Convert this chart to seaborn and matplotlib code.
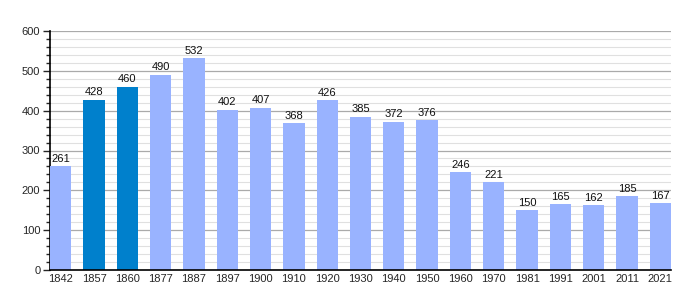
import matplotlib
matplotlib.use("Agg")
import matplotlib.pyplot as plt
import seaborn as sns
import pandas as pd
from matplotlib.ticker import MultipleLocator

years = ["1842", "1857", "1860", "1877", "1887", "1897", "1900", "1910", "1920", "1930",
         "1940", "1950", "1960", "1970", "1981", "1991", "2001", "2011", "2021"]
population = [261, 428, 460, 490, 532, 402, 407, 368, 426, 385,
              372, 376, 246, 221, 150, 165, 162, 185, 167]
highlight = ["1857", "1860"]

light = "#99b3ff"
dark = "#0080cc"

df = pd.DataFrame({"year": years, "pop": population})
palette = {y: (dark if y in highlight else light) for y in years}

sns.set_style("white")
plt.rcParams['font.family'] = ['Liberation Sans', 'DejaVu Sans']

fig = plt.figure(figsize=(7, 3), dpi=100)
ax = fig.add_axes([50/700, 30/300, 621/700, 239/300])

bw = 0.64
sns.barplot(data=df, x="year", y="pop", hue="year", palette=palette, legend=False,
            width=bw, ax=ax, saturation=1, zorder=3, linewidth=0, edgecolor="none")

for i, v in enumerate(population):
    ax.text(i, v + 6, str(v), ha="center", va="bottom", fontsize=8, color="#111111", zorder=4)

ax.set_xlim(-bw/2, len(years) - 1 + bw/2)
ax.set_ylim(0, 600)
ax.yaxis.set_major_locator(MultipleLocator(100))
ax.yaxis.set_minor_locator(MultipleLocator(20))
ax.grid(which="major", axis="y", color="#aaaaaa", linewidth=0.9, zorder=0)
ax.grid(which="minor", axis="y", color="#e0e0e0", linewidth=0.8, zorder=0)
ax.set_axisbelow(True)

for s in ["top", "right"]:
    ax.spines[s].set_visible(False)
ax.spines["left"].set_color("black")
ax.spines["bottom"].set_color("black")
ax.spines["left"].set_linewidth(1.2)
ax.spines["bottom"].set_linewidth(1.2)
ax.spines["bottom"].set_zorder(5)

ax.tick_params(axis="y", which="major", length=5, width=1, direction="out", left=True,
               labelsize=8, pad=2)
ax.tick_params(axis="y", which="minor", length=3, width=1, direction="out", left=True)
ax.tick_params(axis="x", which="both", length=0, labelsize=8, pad=3)
ax.set_xlabel("")
ax.set_ylabel("")

fig.savefig("out.png", dpi=100)
